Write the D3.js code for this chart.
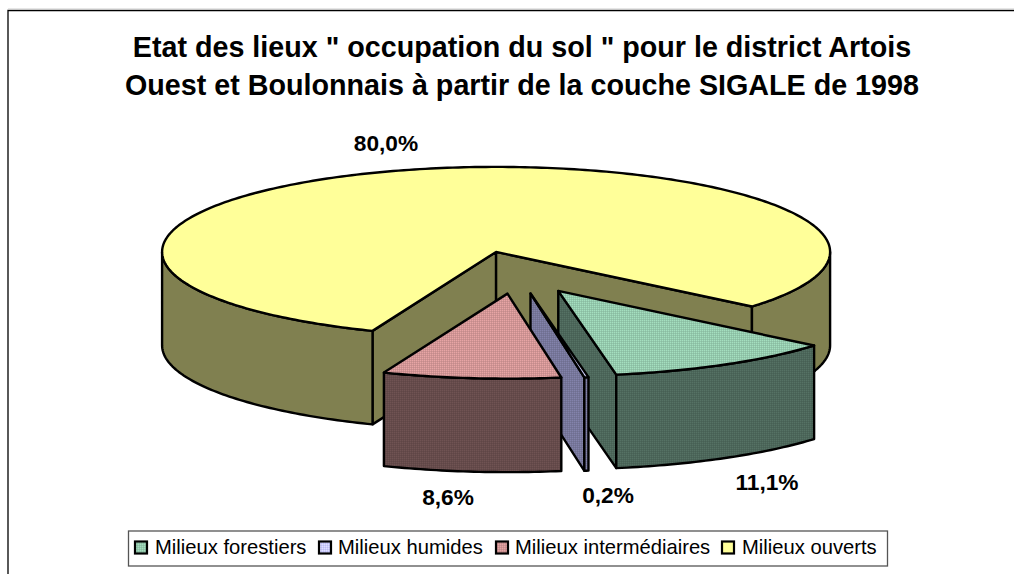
<!DOCTYPE html>
<html><head><meta charset="utf-8">
<script src="https://cdn.jsdelivr.net/npm/d3@7"></script>
<style>html,body{margin:0;padding:0;background:#fff}svg{display:block}text{font-family:"Liberation Sans",Arial,sans-serif;fill:#000}</style>
</head><body><svg id="c" width="1022" height="574"></svg>
<script>
const titleLines = ['Etat des lieux " occupation du sol " pour le district Artois','Ouest et Boulonnais à partir de la couche SIGALE de 1998'];
const categories = ['Milieux forestiers','Milieux humides','Milieux intermédiaires','Milieux ouverts'];
const values = [11.1,0.2,8.6,80.0];
const topColors = ['#93c8ac','#ccccff','#d09494','#ffff99'];
const sideColors = ['#4c665a','#76769a','#654b4b','#808050'];
const labelPos = [[767,490],[608,503],[448,505],[386,151]];
const legendX = [[135,155],[319,338],[496,515],[722,742]];

const svg = d3.select('#c');
const defs = svg.append('defs');
function dither(id,col){
  const c = d3.color(col);
  const p = defs.append('pattern').attr('id',id).attr('width',2).attr('height',2).attr('patternUnits','userSpaceOnUse');
  p.append('rect').attr('width',2).attr('height',2).attr('fill',col);
  p.append('rect').attr('width',1).attr('height',1).attr('fill',c.brighter(0.3).formatHex());
  p.append('rect').attr('x',1).attr('y',1).attr('width',1).attr('height',1).attr('fill',c.darker(0.18).formatHex());
}
categories.forEach((_,i)=>{ if(i<3){dither('t'+i,topColors[i]);dither('s'+i,sideColors[i]);} });
const topFill = i => i<3?`url(#t${i})`:topColors[i];
const sideFill = i => i<3?`url(#s${i})`:sideColors[i];

// frame
svg.append('path').attr('d','M8 574V10.5H1014').attr('fill','none').attr('stroke','#000').attr('stroke-width',1.3);
svg.append('path').attr('d','M8 9H1014').attr('fill','none').attr('stroke','#ccc');

// title
svg.selectAll('text.title').data(titleLines).join('text').attr('class','title')
  .attr('x',522).attr('y',(d,i)=>57+i*38).attr('text-anchor','middle')
  .attr('font-size',28.7).attr('font-weight','bold').text(d=>d);

// 3D pie
const cx=516.5, cy=272.5, rx=334, ry=85, depth=93.5, explode=0.25;
const pie = d3.pie().sort(null).value(d=>d)
  .startAngle(130*Math.PI/180).endAngle((130+360)*Math.PI/180);
const arcs = pie(values);
const sx = d3.scaleLinear().domain([-1,1]).range([-rx,rx]);
const sy = d3.scaleLinear().domain([-1,1]).range([-ry,ry]);
const line = d3.line();
function centre(a){
  const m=(a.startAngle+a.endAngle)/2;
  return [cx+sx(Math.sin(m)*explode), cy+sy(-Math.cos(m)*explode)];
}
function pt(c,t,dz=0){ return [c[0]+sx(Math.sin(t)), c[1]+sy(-Math.cos(t))+dz]; }
function samples(a0,a1){ const n=Math.max(2,Math.ceil(Math.abs(a1-a0)*60)); return d3.range(n+1).map(i=>a0+(a1-a0)*i/n); }
const g = svg.append('g').attr('stroke','#000').attr('stroke-width',2.4).attr('stroke-linejoin','round');
function outerFace(c,a0,a1,fill){
  const up=samples(a0,a1).map(t=>pt(c,t)); const bot=samples(a0,a1).reverse().map(t=>pt(c,t,depth));
  g.append('path').attr('d',line(up.concat(bot))+'Z').attr('fill',fill);
}
function wall(c,t,fill){
  const p=pt(c,t);
  g.append('path').attr('d',line([c,p,[p[0],p[1]+depth],[c[0],c[1]+depth]])+'Z').attr('fill',fill);
}
function topFace(c,a0,a1,fill){
  g.append('path').attr('d',line([c].concat(samples(a0,a1).map(t=>pt(c,t))))+'Z').attr('fill',fill);
}
const P=Math.PI;
{ const a=arcs[3], c=centre(a);
  wall(c,a.startAngle,sideFill(3)); wall(c,a.endAngle,sideFill(3));
  outerFace(c,a.startAngle,1.5*P,sideFill(3));
  outerFace(c,P/2,a.endAngle-2*P,sideFill(3));
  topFace(c,a.startAngle,a.endAngle,topFill(3));
}
[0,1,2].forEach(i=>{ const a=arcs[i], c=centre(a);
  if(i<2) wall(c,a.endAngle,sideFill(i));
  outerFace(c,a.startAngle,a.endAngle,sideFill(i));
  topFace(c,a.startAngle,a.endAngle,topFill(i));
});

// value labels
svg.selectAll('text.val').data(values).join('text').attr('class','val')
  .attr('x',(d,i)=>labelPos[i][0]).attr('y',(d,i)=>labelPos[i][1]).attr('text-anchor','middle')
  .attr('font-size',22.7).attr('font-weight','bold').text(d=>d.toFixed(1).replace('.',',')+'%');

// legend
const lg = svg.append('g');
lg.append('rect').attr('x',128.5).attr('y',531).attr('width',759).attr('height',35).attr('fill','#fff').attr('stroke','#555').attr('stroke-width',1.3);
categories.forEach((n,i)=>{
  lg.append('rect').attr('x',legendX[i][0]).attr('y',541.5).attr('width',12).attr('height',12).attr('fill',topFill(i)).attr('stroke','#000').attr('stroke-width',2.2);
  lg.append('text').attr('x',legendX[i][1]).attr('y',554).attr('font-size',20.2).text(n);
});
</script></body></html>
